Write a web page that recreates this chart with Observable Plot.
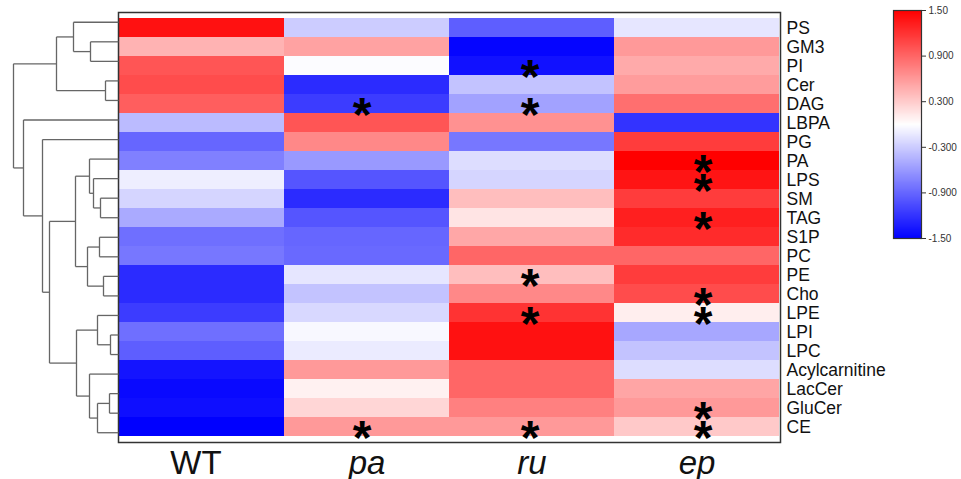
<!DOCTYPE html>
<html><head><meta charset="utf-8">
<script src="https://cdn.jsdelivr.net/npm/d3@7"></script>
<script src="https://cdn.jsdelivr.net/npm/@observablehq/plot@0.6"></script>
<style>
body{margin:0;background:#fff;}
#wrap{position:relative;width:961px;height:479px;font-family:"Liberation Sans",Arial,sans-serif;}
#wrap svg{position:absolute;overflow:visible;}
</style>
</head><body><div id="wrap"></div>
<script>
const rows = ["PS","GM3","PI","Cer","DAG","LBPA","PG","PA","LPS","SM","TAG","S1P","PC","PE","Cho","LPE","LPI","LPC","Acylcarnitine","LacCer","GluCer","CE"];
const cols = ["WT","pa","ru","ep"];
const wtValues = [1.4, 0.45, 1.0, 1.05, 0.95, -0.4, -0.9, -0.75, -0.1, -0.25, -0.5, -0.85, -0.8, -1.25, -1.25, -1.15, -0.85, -0.95, -1.38, -1.45, -1.42, -1.5];
const paValues = [-0.3, 0.55, -0.02, -1.25, -1.15, 1.0, 0.7, -0.6, -1.0, -1.25, -1.0, -0.9, -0.88, -0.15, -0.35, -0.23, -0.04, -0.12, 0.6, 0.08, 0.24, 0.6];
const ruValues = [-0.95, -1.47, -1.4, -0.35, -0.55, 0.65, -0.8, -0.2, -0.25, 0.38, 0.16, 0.52, 0.9, 0.38, 0.7, 1.2, 1.4, 1.4, 0.9, 0.9, 0.75, 0.6];
const epValues = [-0.15, 0.6, 0.5, 0.58, 0.85, -1.2, 1.15, 1.5, 1.38, 1.15, 1.32, 1.25, 0.9, 1.15, 1.05, 0.1, -0.52, -0.35, -0.2, 0.53, 0.6, 0.32];
const sigPa = ["DAG","CE"];
const sigRu = ["PI","DAG","PE","LPE","CE"];
const sigEp = ["PA","LPS","TAG","Cho","LPE","GluCer","CE"];
const legendTicks = [1.5, 0.9, 0.3, -0.3, -0.9, -1.5];
const legendLabels = ["1.50","0.900","0.300","-0.300","-0.900","-1.50"];
// dendrogram: merge heights (h) of clusters
const tree = {h:105, c:[
  {h:62, c:[ {h:45, c:["PS", {h:28, c:["GM3","PI"]}]}, {h:13, c:["Cer","DAG"]} ]},
  {h:95, c:["LBPA", {h:76, c:["PG", {h:69, c:[
     {h:43, c:[ {h:29, c:["PA", {h:25, c:["LPS", {h:18, c:["SM","TAG"]}]}]},
                {h:31, c:[ {h:19, c:["S1P","PC"]}, {h:15, c:["PE","Cho"]} ]} ]},
     {h:42, c:[ {h:21, c:["LPE", {h:8, c:["LPI","LPC"]}]},
                {h:29, c:["Acylcarnitine", {h:21, c:[ {h:9, c:["LacCer","GluCer"]}, "CE"]}]} ]}
  ]}]}]}
]};

const valuesByCol = {WT: wtValues, pa: paValues, ru: ruValues, ep: epValues};
const tidy = rows.flatMap((r, i) => cols.map(c => ({row: r, col: c, value: valuesByCol[c][i]})));
const sigByCol = {pa: sigPa, ru: sigRu, ep: sigEp};
const starDx = {pa: -5, ru: -2, ep: 6};

const segs = [];
function walk(n) {
  if (typeof n === "string") return {y: rows.indexOf(n) + 0.5, h: 0};
  const kids = n.c.map(walk);
  const ys = kids.map(k => k.y);
  segs.push({x1: n.h, x2: n.h, y1: d3.min(ys), y2: d3.max(ys)});
  kids.forEach(k => segs.push({x1: n.h, x2: k.h, y1: k.y, y2: k.y}));
  return {y: (d3.min(ys) + d3.max(ys)) / 2, h: n.h};
}
walk(tree);

const font = "Liberation Sans, Arial, sans-serif";
const colorScale = {type: "linear", domain: [-1.5, 0, 1.5], range: ["#0000ff", "#ffffff", "#ff0000"], interpolate: "rgb", clamp: true};

const starMarks = Object.keys(sigByCol).map(c =>
  Plot.text(sigByCol[c].map(r => ({row: r, col: c})), {
    x: "col", y: "row", text: () => "*", fontSize: 48, fontWeight: "bold", fill: "#000", dx: starDx[c], dy: 12
  })
);

const heat = Plot.plot({
  width: 961, height: 479, marginLeft: 118, marginRight: 181, marginTop: 12, marginBottom: 37,
  style: {fontFamily: font, background: "transparent", color: "#000"},
  x: {domain: cols, padding: 0, axis: null},
  y: {domain: rows, padding: 0, axis: null},
  color: colorScale,
  marks: [
    Plot.cell(tidy, {x: "col", y: "row", fill: "value", inset: 0}),
    Plot.frame({stroke: "#333", strokeWidth: 1.5}),
    Plot.axisY({anchor: "right", tickSize: 0, tickPadding: 6, fontSize: 17.5, color: "#111", label: null}),
    Plot.text(["WT"], {x: d => d, frameAnchor: "bottom", lineAnchor: "bottom", dy: 31, dx: -6, fontSize: 33, fill: "#111"}),
    Plot.text(["pa","ru","ep"], {x: d => d, frameAnchor: "bottom", lineAnchor: "bottom", dy: 31, fontSize: 33, fontStyle: "italic", fill: "#111"}),
    ...starMarks
  ]
});
heat.style.left = "0px"; heat.style.top = "0px";

const dendro = Plot.plot({
  width: 118, height: 479, marginLeft: 13, marginRight: 0, marginTop: 12, marginBottom: 37,
  style: {background: "transparent"},
  x: {domain: [105, 0], axis: null},
  y: {domain: [0, rows.length], reverse: true, axis: null},
  marks: [
    Plot.link(segs, {x1: "x1", y1: "y1", x2: "x2", y2: "y2", stroke: "#666", strokeWidth: 1.3})
  ]
});
dendro.style.left = "0px"; dendro.style.top = "0px";

const legend = Plot.plot({
  width: 81, height: 250, marginLeft: 13, marginRight: 40, marginTop: 10, marginBottom: 12,
  style: {fontFamily: font, background: "transparent"},
  x: {domain: [0, 1], axis: null},
  y: {domain: [-1.5, 1.5], axis: null},
  color: colorScale,
  marks: [
    Plot.raster({x1: 0, x2: 1, y1: -1.5, y2: 1.5, width: 1, height: 240, fill: (x, y) => y}),
    Plot.frame({stroke: "#333", strokeWidth: 1.2}),
    Plot.axisY(legendTicks, {anchor: "right", tickSize: 4, tickPadding: 3, fontSize: 10, color: "#333", label: null,
      tickFormat: d => legendLabels[legendTicks.indexOf(d)]})
  ]
});
legend.style.left = "880px"; legend.style.top = "0px";

const wrap = document.getElementById("wrap");
wrap.append(heat, dendro, legend);
</script></body></html>
